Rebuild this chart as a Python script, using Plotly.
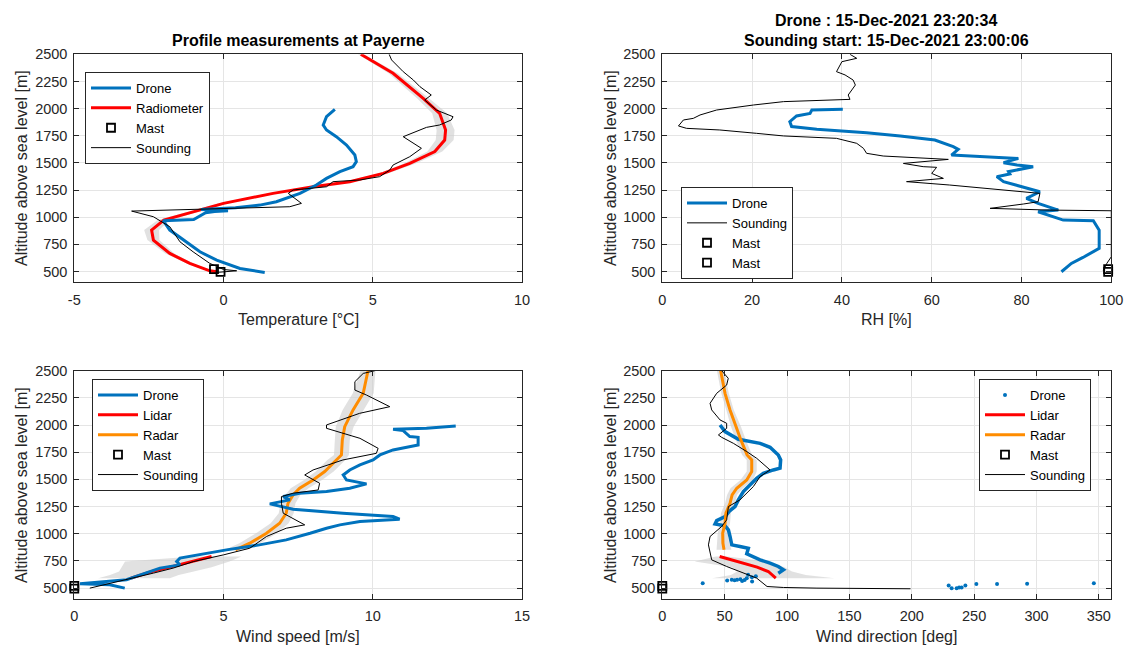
import plotly.graph_objects as go

# ---------------- Temperature panel ----------------
temp_drone_alt = [1993, 1925, 1849, 1803, 1741, 1664, 1572, 1511, 1465, 1419, 1357, 1296, 1219,
                  1142, 1111, 1086, 1070, 1060, 1052, 1040, 979, 967, 881, 789, 681, 604, 527, 491]
temp_drone_val = [3.73, 3.45, 3.34, 3.45, 3.78, 4.12, 4.4, 4.45, 4.34, 3.9, 3.45, 3.11, 2.56,
                  1.77, 1.22, 0.4, -0.75, 0.15, -0.3, -0.6, -1.0, -2.02, -1.8, -1.35, -0.79, -0.23, 0.55, 1.38]

radiometer_alt = [2500, 2325, 2094, 1956, 1803, 1710, 1604, 1495, 1403, 1326, 1280, 1219, 1127,
                  1050, 973, 881, 789, 666, 574, 506, 497]
radiometer_val = [4.6, 5.68, 6.69, 7.24, 7.44, 7.41, 7.08, 6.24, 5.35, 4.23, 3.0, 1.66, 0.0,
                  -1.0, -2.0, -2.41, -2.35, -1.8, -1.13, -0.46, -0.23]
radiometer_err = [0.1, 0.15, 0.2, 0.25, 0.3, 0.3, 0.25, 0.2, 0.15, 0.15, 0.15, 0.15, 0.15,
                  0.15, 0.2, 0.25, 0.2, 0.15, 0.1, 0.1, 0.1]

temp_sound_alt = [491, 506, 518, 574, 681, 773, 912, 1004, 1056, 1081, 1096, 1127, 1219, 1250, 1280,
                  1327, 1342, 1373, 1434, 1480, 1557, 1634, 1741, 1827, 1849, 1895, 1925, 1987,
                  2079, 2125, 2202, 2263, 2340, 2448, 2500]
temp_sound_val = [-0.23, 0.44, 0.0, -0.46, -1.02, -1.46, -1.8, -2.35, -3.08, 0.1, 2.22, 2.61, 2.17,
                  2.33, 3.45, 3.67, 4.56, 5.23, 5.57, 5.68, 6.24, 6.63, 6.02, 6.8, 7.24, 7.63, 7.69,
                  7.13, 6.74, 6.96, 6.58, 6.36, 6.02, 5.63, 5.55]

mast_alt = [496, 521]
mast_temp = [-0.1, -0.32]

# ---------------- Relative humidity panel ----------------
rh_drone_alt = [1993, 1987, 1956, 1932, 1880, 1834, 1809, 1778, 1748, 1710, 1649, 1625, 1572,
                1557, 1541, 1502, 1480, 1465, 1419, 1397, 1373, 1327, 1280, 1234, 1173, 1127,
                1065, 1050, 973, 967, 881, 712, 629, 574, 497]
rh_drone_val = [40.2, 33.3, 32.9, 29.9, 28.4, 28.8, 34.4, 45.5, 53, 60.7, 64.8, 65.9, 64.4,
                71.5, 79.3, 76, 79, 82.6, 77.1, 77.4, 74.5, 76, 80.4, 84.1, 81.1, 83.7,
                88.2, 83.7, 89.3, 96, 97.3, 97.3, 93.7, 91.1, 88.9]

rh_sound_alt = [2500, 2463, 2432, 2402, 2340, 2310, 2263, 2217, 2125, 2085, 2073, 2064, 2033, 1987,
                1941, 1910, 1895, 1840, 1818, 1803, 1772, 1748, 1726, 1680, 1634, 1588, 1563, 1548,
                1532, 1495, 1465, 1459, 1403, 1357, 1327, 1296, 1265, 1219, 1142, 1121, 1081,
                1065, 1059, 635, 574, 506]
rh_sound_val = [41.8, 43.3, 40, 39.6, 38.8, 40.7, 42.5, 43, 41.4, 41.8, 33, 27, 20.3, 12.1,
                8.4, 6.9, 4.7, 3.6, 5.4, 12.8, 21, 27, 38.8, 43.3, 44.8, 45.5, 49.2, 58,
                63.7, 53.7, 58.1, 61.1, 60, 62.6, 54.4, 64, 71.5, 84.1, 83.7, 80.4, 73,
                86.3, 100, 100, 99, 98.2]

mast_rh = [99.3, 99.3]

# ---------------- Wind speed panel ----------------
ws_drone_alt = [1992, 1970, 1961, 1949, 1894, 1887, 1817, 1802, 1771, 1725, 1679, 1633, 1587, 1541,
                1495, 1459, 1419, 1388, 1373, 1342, 1312, 1275, 1226, 1189, 1159, 1134, 1113,
                1082, 1051, 1005, 944, 898, 852, 776, 745, 714, 684, 577, 552, 540, 531, 500]
ws_drone_val = [12.78, 11.8, 10.68, 11.02, 11.24, 11.52, 11.52, 11.24, 10.68, 10.24, 10.01, 9.57,
                9.23, 9.01, 9.12, 9.79, 9.23, 8.45, 7.55, 7.0, 7.22, 6.55, 7.33, 9.0, 10.68,
                10.9, 9.57, 8.9, 8.45, 7.9, 7.1, 6.2, 5.1, 3.54, 3.43, 3.54, 2.87, 1.75, 0.64,
                0.19, 1.19, 1.69]

lidar_alt = [592, 620, 653, 693, 745, 791]
lidar_ws = [1.9, 2.2, 2.6, 3.2, 3.9, 4.6]
lidar_ws_lo = [0.8, 1.2, 1.5, 1.6, 1.7, 4.0]
lidar_ws_hi = [3.2, 3.5, 4.0, 4.6, 5.2, 5.6]

radar_alt = [2500, 2292, 2139, 1985, 1863, 1725, 1679, 1572, 1495, 1419, 1358, 1281, 1189, 1097,
             1005, 913, 852]
radar_ws = [9.84, 9.68, 9.34, 9.06, 8.98, 8.95, 8.78, 8.39, 8.0, 7.55, 7.33, 7.16, 7.1, 6.88,
            6.44, 5.88, 5.4]
radar_ws_err = [0.25, 0.35, 0.35, 0.3, 0.25, 0.25, 0.3, 0.3, 0.3, 0.3, 0.25, 0.25, 0.25, 0.3,
                0.35, 0.35, 0.35]

ws_sound_alt = [2500, 2475, 2399, 2322, 2276, 2169, 2108, 2001, 1970, 1878, 1786, 1740, 1679,
                1587, 1541, 1465, 1403, 1373, 1342, 1281, 1189, 1082, 1051, 975, 867, 806, 745,
                684, 638, 577, 500]
ws_sound_val = [10.07, 9.68, 9.4, 9.4, 9.79, 10.57, 9.56, 8.45, 8.45, 9.57, 10.18, 10.12, 9.0,
                8.0, 7.72, 8.22, 8.17, 7.33, 6.94, 6.94, 7.0, 7.72, 7.1, 6.44, 5.88, 5.0, 4.0,
                3.31, 2.65, 1.75, 0.52]

mast_ws = [0.0, 0.0]

# ---------------- Wind direction panel ----------------
wd_drone_alt = [2001, 1940, 1869, 1832, 1795, 1725, 1679, 1603, 1587, 1557, 1511, 1465, 1388,
                1312, 1250, 1214, 1158, 1121, 1091, 1073, 1036, 975, 898, 883, 867, 815, 785,
                760, 730, 699, 668, 637]
wd_drone_val = [46.3, 50.3, 61, 78.4, 86.4, 93, 94.9, 94.4, 89, 81, 75.7, 71.7, 65, 61, 58.3,
                54.3, 50.3, 43.6, 42.3, 50.3, 53, 54.3, 55.7, 62.3, 69, 67.7, 73, 78.4, 86.4,
                93, 97.1, 93]
wd_drone_pts_alt = [622, 610, 600, 590, 582, 576, 572, 566, 560, 578, 574, 570, 546,
                    525, 500, 500, 505, 506, 524, 537, 537, 540, 546]
wd_drone_pts_val = [68.8, 75, 71.8, 67.7, 62.6, 55.7, 58, 64, 72, 60, 66, 52, 32.4,
                    229.6, 232, 236, 238, 240, 243, 251.8, 268.4, 292.5, 346]

lidar_wd = [91, 88, 85, 76, 60, 46]
lidar_wd_lo = [40, 55, 60, 56, 26, 43]
lidar_wd_hi = [138, 115, 104, 98, 85, 52]

radar_wd = [46.8, 50.3, 54.3, 59.1, 63, 68, 71.7, 71.7, 67.7, 59.7, 56, 54.3, 51, 50.3, 48.4,
            48.6, 49.5]
radar_wd_err = [3, 3, 3, 4, 4, 4, 4, 4, 5, 5, 4, 4, 4, 4, 4, 5, 6]

wd_sound_alt = [2500, 2430, 2368, 2292, 2200, 2139, 2047, 2016, 1970, 1909, 1887, 1832, 1756,
                1694, 1587, 1526, 1434, 1312, 1250, 1128, 1067, 975, 898, 760, 699, 638, 592,
                515, 506, 500, 494]
wd_sound_val = [47.6, 52.9, 51.6, 43.6, 38.3, 39.6, 46.3, 51.6, 51.6, 45, 47.6, 57, 67.7, 75.7,
                86.4, 78.4, 73, 62.3, 53, 51.6, 47.6, 38.3, 37, 39.6, 51.6, 65, 75.7, 84, 97.1,
                124, 199]

mast_wd = [0.0, 0.0]

# Tick positions and labels
temp_ticks = [-5, 0, 5, 10]
temp_ticklabels = ["-5", "0", "5", "10"]
rh_ticks = [0, 20, 40, 60, 80, 100]
ws_ticks = [0, 5, 10, 15]
wd_ticks = [0, 50, 100, 150, 200, 250, 300, 350]
alt_ticks = [500, 750, 1000, 1250, 1500, 1750, 2000, 2250, 2500]

# ---------------- Styling ----------------
FONT = "Liberation Sans, Arial, Helvetica, sans-serif"
BLUE = "#0072BD"
RED = "#FF0000"
ORANGE = "#FF8C00"
BAND = "rgba(205,205,205,0.6)"
AXC = "#262626"

fig = go.Figure()


def band(alt, lo, hi, xa, ya):
    fig.add_trace(go.Scatter(
        x=list(lo) + list(hi)[::-1], y=list(alt) + list(alt)[::-1],
        fill="toself", fillcolor=BAND, line=dict(width=0), mode="lines",
        hoverinfo="skip", showlegend=False, xaxis=xa, yaxis=ya))


def line(x, y, name, color, width, xa, ya, leg, rank, show=True):
    fig.add_trace(go.Scatter(
        x=x, y=y, name=name, mode="lines", line=dict(color=color, width=width),
        xaxis=xa, yaxis=ya, legend=leg, legendrank=rank, showlegend=show))


def mast(x, y, xa, ya, leg, rank, show=True):
    fig.add_trace(go.Scatter(
        x=x, y=y, name="Mast", mode="markers", cliponaxis=False,
        marker=dict(symbol="square-open", size=8, color="black", line=dict(width=1.8)),
        xaxis=xa, yaxis=ya, legend=leg, legendrank=rank, showlegend=show))


# Temperature
band(radiometer_alt, [v - e for v, e in zip(radiometer_val, radiometer_err)],
     [v + e for v, e in zip(radiometer_val, radiometer_err)], "x", "y")
line(radiometer_val, radiometer_alt, "Radiometer", RED, 3, "x", "y", "legend", 2)
line(temp_drone_val, temp_drone_alt, "Drone", BLUE, 3, "x", "y", "legend", 1)
line(temp_sound_val, temp_sound_alt, "Sounding", "black", 1, "x", "y", "legend", 4)
mast(mast_temp, mast_alt, "x", "y", "legend", 3)

# Relative humidity
line(rh_drone_val, rh_drone_alt, "Drone", BLUE, 3, "x2", "y2", "legend2", 1)
line(rh_sound_val, rh_sound_alt, "Sounding", "black", 1, "x2", "y2", "legend2", 2)
mast(mast_rh[:1], mast_alt[:1], "x2", "y2", "legend2", 3)
mast(mast_rh[1:], mast_alt[1:], "x2", "y2", "legend2", 4)

# Wind speed
band(lidar_alt, lidar_ws_lo, lidar_ws_hi, "x3", "y3")
band(radar_alt, [v - e for v, e in zip(radar_ws, radar_ws_err)],
     [v + e for v, e in zip(radar_ws, radar_ws_err)], "x3", "y3")
line(lidar_ws, lidar_alt, "Lidar", RED, 3, "x3", "y3", "legend3", 2)
line(radar_ws, radar_alt, "Radar", ORANGE, 3, "x3", "y3", "legend3", 3)
line(ws_drone_val, ws_drone_alt, "Drone", BLUE, 3, "x3", "y3", "legend3", 1)
line(ws_sound_val, ws_sound_alt, "Sounding", "black", 1, "x3", "y3", "legend3", 5)
mast(mast_ws, mast_alt, "x3", "y3", "legend3", 4)

# Wind direction
band(lidar_alt, lidar_wd_lo, lidar_wd_hi, "x4", "y4")
band(radar_alt, [v - e for v, e in zip(radar_wd, radar_wd_err)],
     [v + e for v, e in zip(radar_wd, radar_wd_err)], "x4", "y4")
line(wd_drone_val, wd_drone_alt, "Drone", BLUE, 3.5, "x4", "y4", "legend4", 1, show=False)
fig.add_trace(go.Scatter(
    x=wd_drone_pts_val, y=wd_drone_pts_alt, name="Drone", mode="markers",
    marker=dict(color=BLUE, size=4), xaxis="x4", yaxis="y4", legend="legend4", legendrank=1))
line(radar_wd, radar_alt, "Radar", ORANGE, 3, "x4", "y4", "legend4", 3)
line(lidar_wd, lidar_alt, "Lidar", RED, 3, "x4", "y4", "legend4", 2)
line(wd_sound_val, wd_sound_alt, "Sounding", "black", 1, "x4", "y4", "legend4", 5)
mast(mast_wd, mast_alt, "x4", "y4", "legend4", 4)

# ---------------- Axes ----------------
W, H = 1130, 646
xl = [74.3 / W, 522.0 / W]
xr = [662.3 / W, 1111.3 / W]
yt = [1 - 282.3 / H, 1 - 54.3 / H]
yb = [1 - 599.0 / H, 1 - 370.7 / H]


def axis(**kw):
    base = dict(showline=True, linecolor=AXC, linewidth=1, mirror="ticks", ticks="inside",
                ticklen=5, tickcolor=AXC, showgrid=True, gridcolor="#E5E5E5", gridwidth=1,
                zeroline=False, automargin=False,
                tickfont=dict(family=FONT, size=14.5, color=AXC))
    base.update(kw)
    return base


yopts = dict(range=[400, 2500], tickvals=alt_ticks, ticklabelstandoff=3)
xopts = dict(ticklabelstandoff=4)

layout = dict(
    width=W, height=H, margin=dict(l=0, r=0, t=0, b=0),
    paper_bgcolor="white", plot_bgcolor="white",
    font=dict(family=FONT, color=AXC),
    xaxis=axis(domain=xl, range=[-5, 10], tickvals=temp_ticks, ticktext=temp_ticklabels,
               anchor="y", **xopts),
    yaxis=axis(domain=yt, anchor="x", **yopts),
    xaxis2=axis(domain=xr, range=[0, 100], tickvals=rh_ticks, anchor="y2", **xopts),
    yaxis2=axis(domain=yt, anchor="x2", **yopts),
    xaxis3=axis(domain=xl, range=[0, 15], tickvals=ws_ticks, anchor="y3", **xopts),
    yaxis3=axis(domain=yb, anchor="x3", **yopts),
    xaxis4=axis(domain=xr, range=[0, 360], tickvals=wd_ticks, anchor="y4", **xopts),
    yaxis4=axis(domain=yb, anchor="x4", **yopts),
)

leg_common = dict(bgcolor="white", bordercolor=AXC, borderwidth=1, xanchor="left", yanchor="top",
                  font=dict(family=FONT, size=13, color="black"), itemwidth=40,
                  traceorder="normal", tracegroupgap=0)
layout["legend"] = dict(x=85 / W, y=1 - 72 / H, **leg_common)
layout["legend2"] = dict(x=681 / W, y=1 - 187 / H, **leg_common)
layout["legend3"] = dict(x=92 / W, y=1 - 379 / H, **leg_common)
layout["legend4"] = dict(x=979 / W, y=1 - 379 / H, **leg_common)

fig.update_layout(**layout)

# ---------------- Titles and axis labels ----------------
def text(x, y, s, size=16, bold=False, angle=0):
    fig.add_annotation(x=x / W, y=1 - y / H, xref="paper", yref="paper", text=f"<b>{s}</b>" if bold else s,
                       showarrow=False, textangle=angle, xanchor="center", yanchor="middle",
                       font=dict(family=FONT, size=size, color="black" if bold else AXC))


text(298, 40, "Profile measurements at Payerne", bold=True)
text(886, 20, "Drone : 15-Dec-2021 23:20:34", bold=True)
text(886, 41, "Sounding start: 15-Dec-2021 23:00:06", bold=True)
text(298, 320, "Temperature [°C]")
text(886, 320, "RH [%]")
text(298, 636, "Wind speed [m/s]")
text(886, 636, "Wind direction [deg]")
for yc in (168, 485):
    text(21, yc, "Altitude above sea level [m]", angle=-90)
    text(610, yc, "Altitude above sea level [m]", angle=-90)

fig.write_html("out.html")
